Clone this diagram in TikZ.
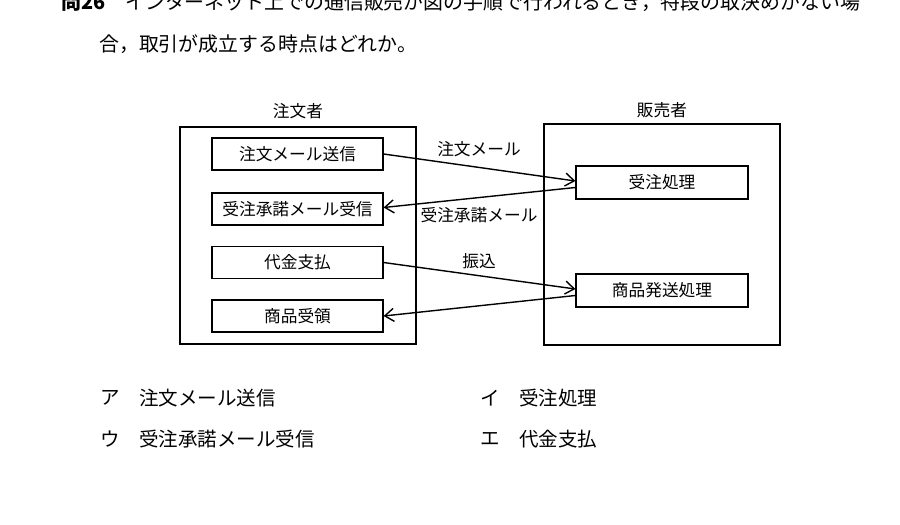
\documentclass[tikz,border=0pt]{standalone}
\usepackage{fontspec}
\setmainfont{Noto Sans CJK JP}
\usetikzlibrary{arrows.meta,calc}
\tikzset{
  outer/.style={draw,line width=1.2pt},
  inbox/.style={draw,line width=1.2pt,minimum width=171pt,minimum height=32pt,inner sep=0pt,font=\fontsize{16.7pt}{18pt}\selectfont},
  lbl/.style={inner sep=0pt,font=\fontsize{16.7pt}{18pt}\selectfont},
  opt/.style={inner sep=0pt,anchor=west,font=\fontsize{19.5pt}{21pt}\selectfont},
  qtext/.style={inner sep=0pt,anchor=west,font=\fontsize{19.9pt}{21pt}\selectfont},
  arr/.style={line width=1.4pt,-{Straight Barb[length=9pt,width=13pt,line width=1.4pt]}}
}
\begin{document}
\begin{tikzpicture}[x=1pt,y=-1pt]
\useasboundingbox (0,0) rectangle (900,525);
\clip (0,0) rectangle (900,525);
\fill[white] (0,0) rectangle (900,525);
% question
\node[qtext] (q1) at (61,2) {\textbf{問26}\hspace{1em}インターネット上での通信販売が図の手順で行われるとき，特段の取決めがない場};
\node[qtext] (q2) at (99,44) {合，取引が成立する時点はどれか。};
% outer boxes
\draw[outer] (180,127) rectangle (416,344);
\draw[outer] (544,124) rectangle (780,345);
\node[lbl] (buyer) at (298,111) {注文者};
\node[lbl] (seller) at (662,110) {販売者};
% inner boxes
\node[inbox] (b1) at (297.5,154) {注文メール送信};
\node[inbox] (b2) at (297.5,209) {受注承諾メール受信};
\node[inbox] (b3) at (297.5,262.5) {代金支払};
\node[inbox] (b4) at (297.5,316) {商品受領};
\node[inbox,minimum width=172pt,minimum height=33pt] (r1) at (662,182.5) {受注処理};
\node[inbox,minimum width=172pt,minimum height=33pt] (r2) at (662,290.5) {商品発送処理};
% arrows
\draw[arr] (b1.east) -- ($(r1.west)+(0,-1.5)$);
\draw[arr] ($(r1.west)+(0,5)$) -- ($(b2.east)+(0,-1.5)$);
\draw[arr] (b3.east) -- ($(r2.west)+(0,-1.5)$);
\draw[arr] ($(r2.west)+(0,5)$) -- ($(b4.east)+(0,0)$);
% arrow labels
\node[lbl] (m1) at (479,149) {注文メール};
\node[lbl] (m2) at (479,215) {受注承諾メール};
\node[lbl] (m3) at (479,261) {振込};
% options
\node[opt] (oa) at (100,398) {ア};
\node[opt] (ta) at (139,398) {注文メール送信};
\node[opt] (oi) at (480,398) {イ};
\node[opt] (ti) at (519,398) {受注処理};
\node[opt] (ou) at (100,439) {ウ};
\node[opt] (tu) at (139,439) {受注承諾メール受信};
\node[opt] (oe) at (480,439) {エ};
\node[opt] (te) at (519,439) {代金支払};
\end{tikzpicture}
\end{document}
